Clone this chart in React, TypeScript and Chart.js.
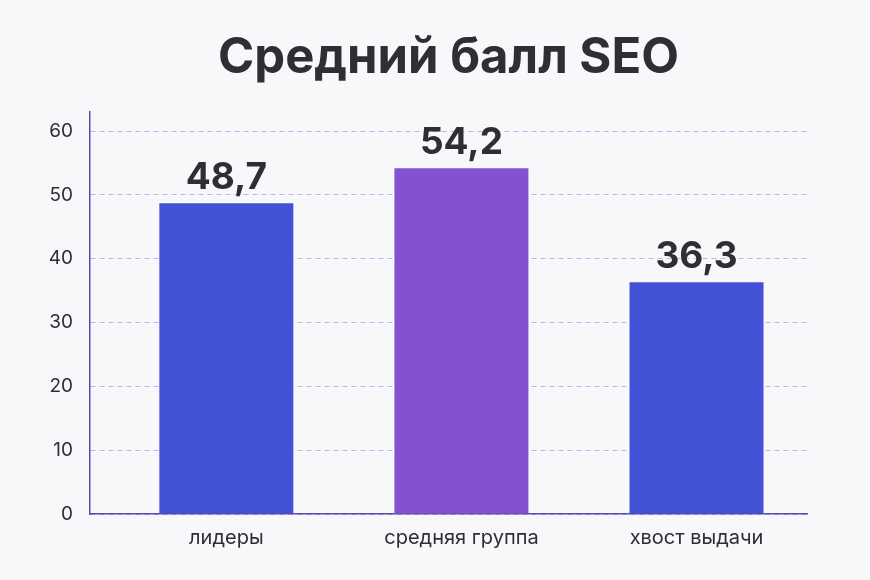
import Chart from "chart.js/auto";
import { useEffect, useRef } from "react";

const TITLE = "Средний балл SEO";
const CATEGORIES = ["лидеры", "средняя группа", "хвост выдачи"];
const SCORES = [48.7, 54.2, 36.3];
const BAR_COLORS = ["#4152d6", "#8451d0", "#4152d6"];
const Y_TICKS = [0, 10, 20, 30, 40, 50, 60];

const FONT = "Inter, 'Noto Sans', sans-serif";
const TEXT_DARK = "#2e2f33";

const labelsPlugin = {
  id: "barLabels",
  afterDatasetsDraw(chart: any) {
    const ctx = chart.ctx;
    const meta = chart.getDatasetMeta(0);
    ctx.save();
    ctx.fillStyle = TEXT_DARK;
    ctx.font = `700 37px ${FONT}`;
    ctx.textAlign = "center";
    ctx.textBaseline = "alphabetic";
    meta.data.forEach((bar: any, i: number) => {
      const text = SCORES[i].toFixed(1).replace(".", ",");
      ctx.fillText(text, bar.x, bar.y - 14);
    });
    // title centred over the plot area
    const { left, right } = chart.chartArea;
    ctx.font = `700 49px ${FONT}`;
    ctx.textBaseline = "middle";
    ctx.fillText(TITLE, (left + right) / 2, 58);
    ctx.restore();
  },
};

export default function App() {
  const chartRef = useRef<HTMLCanvasElement>(null);

  useEffect(() => {
    document.body.style.margin = "0";
    const chart = new Chart(chartRef.current!, {
      type: "bar",
      data: {
        datasets: [
          {
            data: SCORES.map((v, i) => ({ x: i, y: v })),
            backgroundColor: BAR_COLORS,
            barPercentage: 0.57,
            categoryPercentage: 1,
          },
        ],
      },
      options: {
        animation: false,
        responsive: false,
        layout: { padding: { top: 112, right: 63, left: 0, bottom: 0 } },
        plugins: {
          legend: { display: false },
          tooltip: { enabled: false },
        },
        scales: {
          x: {
            type: "linear",
            offset: false,
            min: -0.58,
            max: 2.47,
            afterBuildTicks: (scale: any) => {
              scale.ticks = CATEGORIES.map((_, i) => ({ value: i }));
            },
            grid: { display: false, drawTicks: false },
            border: { color: "#5b4caa", width: 1.5 },
            ticks: {
              color: TEXT_DARK,
              font: { family: FONT, size: 20 },
              padding: 12,
              callback: (v: any) => CATEGORIES[v] ?? "",
            },
            afterFit: (scale: any) => {
              scale.height = 66;
            },
          },
          y: {
            min: 0,
            max: 63,
            afterBuildTicks: (scale: any) => {
              scale.ticks = Y_TICKS.map((v) => ({ value: v }));
            },
            grid: {
              color: "#bdb3ea",
              drawTicks: false,
            },
            border: { color: "#5b4caa", width: 1.5, dash: [5, 4] },
            ticks: {
              color: TEXT_DARK,
              font: { family: FONT, size: 19 },
              padding: 17,
            },
            afterFit: (scale: any) => {
              scale.width = 90;
            },
          },
        },
      },
      plugins: [labelsPlugin],
    });

    return () => chart.destroy();
  }, []);

  return (
    <div style={{ width: 870, height: 580, background: "#f8f8fa" }}>
      <canvas ref={chartRef} width={870} height={580}></canvas>
    </div>
  );
}
